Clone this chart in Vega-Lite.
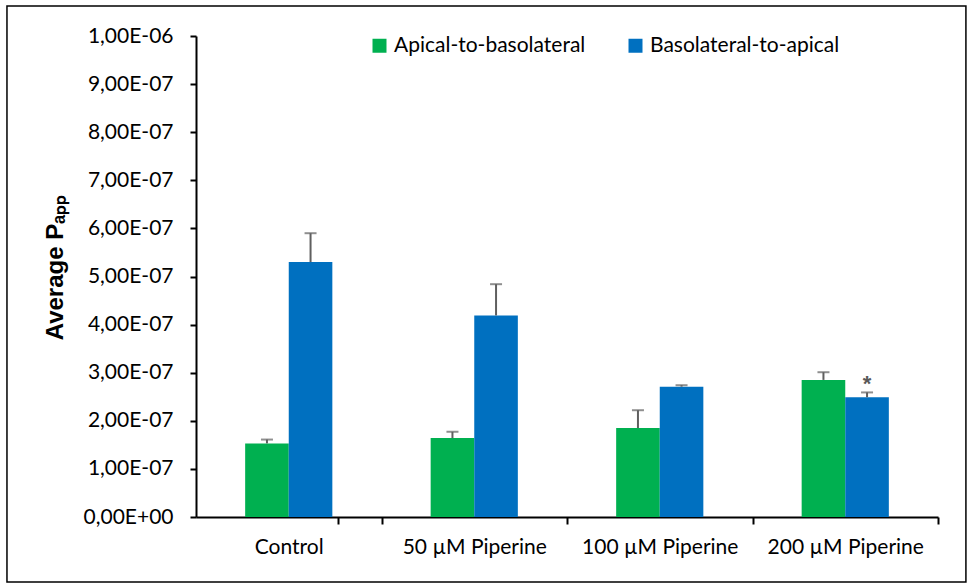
{
  "$schema": "https://vega.github.io/schema/vega-lite/v6.json",
  "autosize": "none",
  "width": 742,
  "height": 481,
  "padding": {"left": 196, "top": 36, "right": 31, "bottom": 68},
  "background": "white",
  "config": {
    "view": {"stroke": null},
    "font": "Lato"
  },
  "data": {
    "values": [
      {"condition": "Control", "direction": "Apical-to-basolateral", "papp": 1.53e-7, "upper": 1.61e-7, "sig": ""},
      {"condition": "Control", "direction": "Basolateral-to-apical", "papp": 5.30e-7, "upper": 5.90e-7, "sig": ""},
      {"condition": "50 µM Piperine", "direction": "Apical-to-basolateral", "papp": 1.64e-7, "upper": 1.77e-7, "sig": ""},
      {"condition": "50 µM Piperine", "direction": "Basolateral-to-apical", "papp": 4.19e-7, "upper": 4.84e-7, "sig": ""},
      {"condition": "100 µM Piperine", "direction": "Apical-to-basolateral", "papp": 1.85e-7, "upper": 2.22e-7, "sig": ""},
      {"condition": "100 µM Piperine", "direction": "Basolateral-to-apical", "papp": 2.71e-7, "upper": 2.74e-7, "sig": ""},
      {"condition": "200 µM Piperine", "direction": "Apical-to-basolateral", "papp": 2.85e-7, "upper": 3.01e-7, "sig": ""},
      {"condition": "200 µM Piperine", "direction": "Basolateral-to-apical", "papp": 2.49e-7, "upper": 2.59e-7, "sig": "*"}
    ]
  },
  "encoding": {
    "x": {
      "field": "condition",
      "type": "nominal",
      "sort": ["Control", "50 µM Piperine", "100 µM Piperine", "200 µM Piperine"],
      "scale": {"paddingInner": 0.53, "paddingOuter": 0.265},
      "axis": {
        "title": null,
        "labelAngle": 0,
        "labelFont": "Lato",
        "labelFontSize": 21,
        "labelColor": "#000000",
        "labelPadding": 12,
        "tickOffset": 92.75,
        "labelOffset": -92.75,
        "tickExtra": true,
        "tickSize": 7,
        "tickWidth": 2,
        "tickColor": "#000000",
        "domainColor": "#000000",
        "domainWidth": 2
      }
    },
    "xOffset": {
      "field": "direction",
      "type": "nominal",
      "sort": ["Apical-to-basolateral", "Basolateral-to-apical"],
      "scale": {"paddingInner": 0, "paddingOuter": 0}
    }
  },
  "layer": [
    {
      "mark": {"type": "bar"},
      "encoding": {
        "y": {
          "field": "papp",
          "type": "quantitative",
          "scale": {"domain": [0, 1e-6], "nice": false},
          "axis": {
            "values": [0, 1e-7, 2e-7, 3e-7, 4e-7, 5e-7, 6e-7, 7e-7, 8e-7, 9e-7, 1e-6],
            "labelExpr": "replace(replace(replace(replace(format(datum.value, '.2e'), '.', ','), 'e-', 'E-0'), 'e+', 'E+0'), 'e', 'E')",
            "grid": false,
            "title": "Average Pₐₚₚ",
            "titleFont": "Liberation Sans",
            "titleFontSize": 24,
            "titleFontWeight": "bold",
            "titleColor": "#000000",
            "titlePadding": 16,
            "titleY": 231,
            "labelFont": "Lato",
            "labelFontSize": 21,
            "labelColor": "#000000",
            "labelPadding": 17,
            "tickSize": 6,
            "tickWidth": 2,
            "tickColor": "#000000",
            "domainColor": "#000000",
            "domainWidth": 2
          }
        },
        "color": {
          "field": "direction",
          "type": "nominal",
          "sort": ["Apical-to-basolateral", "Basolateral-to-apical"],
          "scale": {"range": ["#00B050", "#0070C0"]},
          "legend": {
            "title": null,
            "orient": "none",
            "legendX": 173,
            "legendY": -1,
            "direction": "horizontal",
            "symbolType": "square",
            "symbolSize": 196,
            "symbolStrokeWidth": 0,
            "labelFont": "Lato",
            "labelFontSize": 21,
            "labelLimit": 0,
            "labelColor": "#000000",
            "labelOffset": 4,
            "columnPadding": 39,
            "padding": 0
          }
        }
      }
    },
    {
      "mark": {"type": "rule", "color": "#5f5f5f", "strokeWidth": 2},
      "encoding": {
        "y": {"field": "papp", "type": "quantitative"},
        "y2": {"field": "upper"}
      }
    },
    {
      "mark": {"type": "tick", "color": "#5f5f5f", "thickness": 2, "size": 12},
      "encoding": {
        "y": {"field": "upper", "type": "quantitative"}
      }
    },
    {
      "mark": {"type": "text", "color": "#595959", "fontSize": 22, "fontWeight": "bold", "baseline": "bottom", "dy": 4, "font": "Liberation Sans"},
      "encoding": {
        "y": {"field": "upper", "type": "quantitative"},
        "text": {"field": "sig"}
      }
    },
    {
      "data": {"values": [{"frame": "chart area"}]},
      "mark": {"type": "rect", "filled": false, "stroke": "#000000", "strokeWidth": 1.5, "clip": false},
      "encoding": {
        "x": {"datum": "Control", "bandPosition": -2.732},
        "x2": {"datum": "200 µM Piperine", "bandPosition": 1.884},
        "y": {"datum": 1.0624e-6},
        "y2": {"datum": -1.351e-7},
        "xOffset": null
      }
    }
  ]
}
